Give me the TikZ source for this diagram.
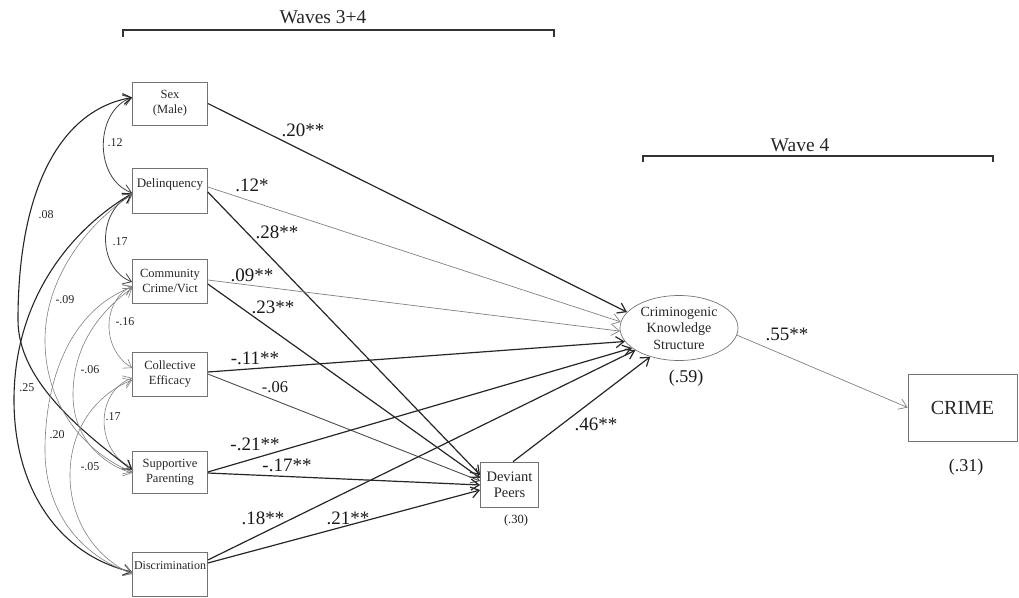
\documentclass[tikz,border=0pt]{standalone}
\usepackage{fontspec}
\setmainfont{Liberation Serif}
\usetikzlibrary{arrows.meta,shapes.geometric}
\begin{document}
\begin{tikzpicture}[x=1pt,y=-1pt,
  box/.style={draw=black!55, line width=0.7pt, minimum width=75pt, inner sep=0pt, align=center, font=\fontsize{12.5}{15}\selectfont, text=black!85},
  boxtxt/.style={inner sep=0pt, font=\fontsize{12.5}{15}\selectfont, text=black!85},
  barb/.style={-{Straight Barb[length=8pt,width=11pt]}},
  dbl/.style={{Straight Barb[length=8pt,width=11pt]}-{Straight Barb[length=8pt,width=11pt]}},
  strong/.style={draw=black!85, line width=1.2pt, barb},
  medium/.style={draw=black!70, line width=0.9pt, barb},
  weak/.style={draw=black!50, line width=0.7pt, barb},
  corrdark/.style={draw=black!85, line width=1.1pt, dbl},
  corrmid/.style={draw=black!75, line width=0.8pt, dbl},
  corrgray/.style={draw=black!50, line width=0.6pt, dbl},
  lab/.style={inner sep=0pt, font=\fontsize{19}{21}\selectfont, text=black!90},
  clab/.style={inner sep=0pt, font=\fontsize{12}{14}\selectfont, text=black!85},
  bracket/.style={draw=black!80, line width=1.3pt},
  wave/.style={inner sep=0pt, font=\fontsize{19.5}{21}\selectfont, text=black!85}
]
\useasboundingbox (0,0) rectangle (1019,597);

% brackets
\node[wave] (w34) at (323,17) {Waves 3+4};
\draw[bracket] (123,37) -- (123,30) -- (554,30) -- (554,37);
\node[wave] (w4) at (800,145) {Wave 4};
\draw[bracket] (643,162) -- (643,156) -- (993,156) -- (993,162);

% boxes
\node[box, minimum height=43pt] (sex) at (170,103.5) {Sex\\(Male)};
\node[box, minimum height=45pt] (del) at (170,190.5) {};
\node[boxtxt, font=\fontsize{13}{15}\selectfont] (delt) at (170,184) {Delinquency};
\node[box, minimum height=44pt] (com) at (170,281) {Community\\Crime/Vict};
\node[box, minimum height=44pt] (col) at (170,374) {Collective\\Efficacy};
\node[box, minimum height=42pt] (sup) at (170,472) {Supportive\\Parenting};
\node[box, minimum height=44pt] (dis) at (170,574) {};
\node[boxtxt, font=\fontsize{12}{15}\selectfont] (dist) at (170,566) {Discrimination};

\node[box, minimum width=58pt, minimum height=45pt, font=\fontsize{14.5}{16}\selectfont] (dp) at (509.5,484.5) {Deviant\\Peers};
\node[draw=black!55, line width=0.7pt, ellipse, minimum width=118pt, minimum height=65pt, inner sep=0pt, align=center, font=\fontsize{14}{16.5}\selectfont, text=black!85] (ckn) at (679,328) {Criminogenic\\Knowledge\\Structure};
\node[box, minimum width=109pt, minimum height=67pt, font=\fontsize{20}{22}\selectfont] (crime) at (962.5,407.5) {CRIME};

\node[lab, font=\fontsize{18}{20}\selectfont] (r59) at (686,378) {(.59)};
\node[lab, font=\fontsize{18}{20}\selectfont] (r31) at (966,467) {(.31)};
\node[lab, font=\fontsize{12.5}{14}\selectfont] (r30) at (516,520) {(.30)};

% paths
\draw[strong] (sex.east) -- (ckn.163);
\draw[weak] ([yshift=3.5pt]del.east) -- (ckn.174);
\draw[strong] ([yshift=-1.5pt]del.east) -- ([yshift=9.5pt]dp.west);
\draw[weak] ([yshift=1pt]com.east) -- (ckn.183);
\draw[strong] ([yshift=-3pt]com.east) -- ([yshift=6.5pt]dp.west);
\draw[strong] ([yshift=2pt]col.east) -- (ckn.194);
\draw[medium] (col.east) -- ([yshift=3.5pt]dp.west);
\draw[strong] (sup.east) -- (ckn.203);
\draw[strong] ([yshift=-1pt]sup.east) -- ([yshift=-0.5pt]dp.west);
\draw[strong] ([yshift=14pt]dis.east) -- (ckn.207.5);
\draw[strong] ([yshift=11pt]dis.east) -- ([yshift=-5.5pt]dp.west);
\draw[strong] ([xshift=3.5pt]dp.north) -- (ckn.225);
\draw[weak] (ckn.353) -- (crime.west);

% path labels
\node[lab] (l20) at (303,130) {.20**};
\node[lab] (l12) at (252,185) {.12*};
\node[lab] (l28) at (277,232) {.28**};
\node[lab] (l09) at (252,275) {.09**};
\node[lab] (l23) at (273,307) {.23**};
\node[lab] (l11) at (255,358) {-.11**};
\node[lab, font=\fontsize{16.5}{18}\selectfont] (l06) at (275,387) {-.06};
\node[lab] (l21n) at (255,444) {-.21**};
\node[lab] (l17) at (287,465) {-.17**};
\node[lab] (l18) at (263,518) {.18**};
\node[lab] (l21) at (348,518) {.21**};
\node[lab] (l46) at (596,424) {.46**};
\node[lab] (l55) at (787,334) {.55**};

% correlations
\draw[corrmid] ([yshift=6pt]sex.west) .. controls (95,110) and (93,178) .. ([yshift=-2.5pt]del.west);
\draw[corrmid] ([yshift=-4.5pt]del.west) .. controls (97,210) and (97,268) .. ([yshift=-1pt]com.west);
\draw[corrgray] ([yshift=-5pt]com.west) .. controls (103,300) and (100,348) .. ([yshift=6pt]col.west);
\draw[corrgray] ([yshift=-4pt]col.west) .. controls (95,392) and (95,450) .. ([yshift=4pt]sup.west);
\draw[corrdark] ([yshift=6pt]sex.west) .. controls (60,110) and (18,190) .. (18,320) .. controls (18,380) and (80,430) .. ([yshift=2pt]sup.west);
\draw[corrdark] ([yshift=-3pt]del.west) .. controls (70,230) and (14,300) .. (14,400) .. controls (14,490) and (60,555) .. ([yshift=2pt]dis.west);
\draw[corrgray] ([yshift=-4pt]del.west) .. controls (85,225) and (45,280) .. (45,340) .. controls (45,410) and (90,455) .. (sup.west);
\draw[corrgray] ([yshift=-6pt]com.west) .. controls (70,310) and (45,380) .. (45,450) .. controls (45,520) and (90,560) .. ([yshift=1pt]dis.west);
\draw[corrgray] ([yshift=-7pt]com.west) .. controls (95,315) and (73,350) .. (73,395) .. controls (73,440) and (105,465) .. ([yshift=-1pt]sup.west);
\draw[corrgray] ([yshift=-6pt]col.west) .. controls (95,395) and (70,430) .. (70,475) .. controls (70,525) and (100,560) .. (dis.west);

% correlation labels
\node[clab] (c12) at (115,143) {.12};
\node[clab] (c17a) at (120,242) {.17};
\node[clab] (c08) at (46,215) {.08};
\node[clab] (c09) at (65,300) {-.09};
\node[clab] (c16) at (125,322) {-.16};
\node[clab] (c25) at (27,388) {.25};
\node[clab] (c06) at (90,370) {-.06};
\node[clab] (c17b) at (113,417) {.17};
\node[clab] (c20) at (57,435) {.20};
\node[clab] (c05) at (90,467) {-.05};
\end{tikzpicture}
\end{document}
